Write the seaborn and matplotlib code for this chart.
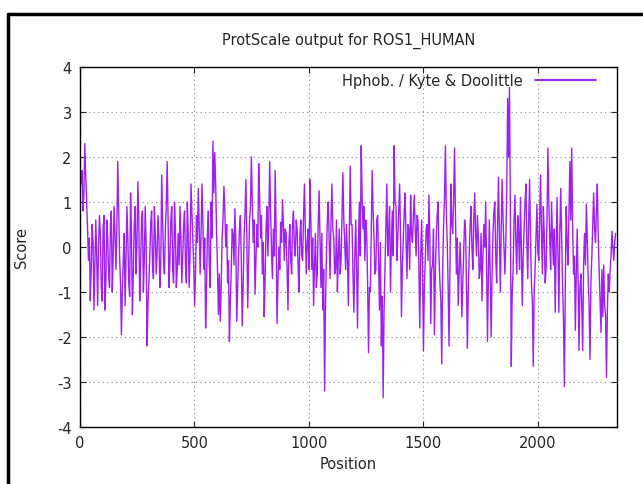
import numpy as np
import seaborn as sns
import matplotlib.pyplot as plt
from matplotlib.lines import Line2D

# Kyte & Doolittle scores.
# segN: one value every 8 residues, segNb: the values half way between them
seg1 = [1.4, 0.8, 2.3, 1.0, -0.3, -1.2, 0.5, -1.4, 0.6, -1.3, 0.7, -0.9, 0.4, -1.4, 0.6, -0.6, 0.5, -1.0, 0.9,
        -0.5, 1.9, -0.2, -1.95, -0.3, -1.3, 0.9, -0.8, 1.2, -1.5, 0.5, -0.6, 1.45, -1.2, 0.6, -1.0, 0.9, -2.2]
seg1b = [1.7, 1.2, 1.6, 0.4, 0.2, -0.5, 0.1, -0.4, -0.2, 0.0, 0.3, -1.2, 0.7, -0.8, 0.2, -0.9, 0.8, -0.2, 0.3,
         0.4, 0.8, -0.8, -1.0, 0.3, -0.3, 0.2, -1.1, 0.3, -0.6, 0.9, 0.1, 0.6, -0.4, 0.8, -0.3, 0.1, -1.3]
seg2 = [-0.8, 0.5, -0.4, 0.9, -0.6, 0.7, -0.9, 1.6, -0.3, 0.4, 1.9, -0.9, 0.6, -0.5, 1.0, -0.9, 0.3, 0.9, -0.8,
        0.5, -0.4, 1.0, -0.9, 1.4, 0.2, -1.3, 0.7, 1.3, -0.6, 1.4, -0.5, -1.8, 0.3, -0.4, 1.0, 2.35, 2.1]
seg2b = [-0.2, 0.8, -0.7, 0.3, -0.1, 0.2, -0.4, 0.7, -0.6, 0.9, 0.6, -0.3, 0.9, -0.8, 0.4, -0.5, -0.4, 0.2, -0.2,
         0.8, -0.8, 0.3, -0.2, 0.8, -0.4, -0.6, 0.1, 0.5, 0.2, 0.6, 0.2, -0.9, 0.8, -0.9, 0.2, 1.2, 1.4]
seg3 = [0.3, -1.5, -1.65, 0.2, 1.35, 0.0, -0.8, -2.1, -0.5, 0.3, 0.85, -1.65, -0.2, 0.7, -1.75, 0.2, 1.5, -1.35,
        0.6, 2.0, 0.1, -1.05, 0.5, 1.85, 0.2, -0.6, -1.55, 0.4, -0.2, 1.9, -0.1, 0.4, 1.7, -1.7, 0.0, 0.55, 1.05]
seg3b = [-0.5, -0.6, -0.9, 0.6, 0.8, 0.5, -0.3, -1.2, 0.4, -0.4, 0.1, -0.9, 0.4, -0.3, -0.9, 0.7, 0.3, -0.4,
         0.9, 1.0, 0.6, -0.3, 0.0, 1.1, 0.7, 0.1, -0.7, 0.9, 0.5, 0.8, -0.7, -0.2, 0.4, -0.8, -0.5, 0.1, 0.5]
seg4 = [-0.3, 0.3, -1.4, 0.5, -0.6, 0.8, -0.2, 0.4, -1.0, 0.6, -0.3, 1.4, -0.6, 0.4, 1.5, -0.5, -1.3, 0.3, -0.6,
        1.25, -0.9, -1.4, -3.2, -0.2, 1.0, -0.7, 1.4, 0.2, -0.5, -1.0, 0.4, -0.3, 1.65, 0.1, 0.5, -1.3, 1.8]
seg4b = [0.4, -0.5, 0.1, -0.3, 0.5, 0.0, 0.6, -0.4, 0.2, -0.2, 0.7, 0.3, 0.1, -0.5, 0.6, 0.2, -0.4, -0.9, 0.5,
         0.2, 0.3, -0.5, -1.3, 0.6, 0.1, 0.6, 0.4, -0.6, 0.6, -0.2, -0.6, 0.7, 0.6, -0.5, -0.3, 0.2, 0.5]
seg5 = [0.5, -1.45, 0.6, -1.8, 1.0, 2.25, 0.4, -0.3, 0.3, -2.35, -1.0, 1.7, 0.2, -0.5, 0.7, -1.4, -2.2, -3.35,
        -0.4, 1.4, 0.3, -1.0, 0.8, 2.25, 0.9, 0.2, 1.4, -1.55, 0.2, 1.2, -0.7, 0.4, 1.15, 0.1, 1.15, -0.2, 0.6, -1.8]
seg5b = [-0.6, -0.2, -0.5, 0.1, -0.2, 1.1, 0.9, 0.6, -0.8, -0.9, 0.4, 0.8, -0.6, 0.6, -0.3, 0.1, -1.1, -1.4,
         0.5, -0.2, 0.9, 0.1, -0.2, 1.0, -0.3, 0.8, 0.2, -0.4, 0.8, 0.1, 0.5, -0.5, 0.3, 0.7, 0.4, 0.7, -0.4, -0.2]
seg6 = [0.6, -2.3, -0.3, 0.5, 1.15, -1.7, -0.4, -1.95, 0.2, 1.0, -0.8, -2.6, 0.5, 2.25, 0.1, -2.2, 1.4, 0.3, 2.2,
        -0.6, -1.3, 0.1, -1.55, -0.1, 0.4, -2.25, -0.2, 0.9, -0.5, 1.2, -0.2, 0.2, -0.5, -1.2, 0.5, 1.0, -2.1]
seg6b = [-0.4, -0.9, 0.4, -0.3, 0.2, -0.5, 0.4, -0.6, 0.7, -0.2, -1.2, -0.6, 1.1, 0.8, -0.9, -0.3, 0.5, 1.1, 0.7,
         0.2, -0.6, -0.5, -0.8, 0.6, -0.8, -1.0, 0.5, 0.0, 0.6, 0.3, 0.7, -0.7, 0.3, -0.2, 0.0, -0.4, -0.6]
seg7 = [0.6, -2.0, 0.3, 1.0, -0.8, 1.55, -1.0, 1.5, 0.0, 0.1, 3.3, 3.55, -2.65, -0.5, 1.15, -0.6, 0.3, 1.1, -1.3,
        0.4, 1.4, -0.7, 1.5, -0.8, -2.65, -0.5, 0.95, -0.3, 1.6, -0.6, 0.3, -0.5, 2.2, 0.2, 1.0, -0.4, -1.45]
seg7b = [-0.7, -0.6, 0.8, -0.2, 0.5, 0.2, 0.4, 0.6, -0.6, 1.2, 2.0, 0.8, -1.0, 0.6, 0.1, 0.7, -0.5, 0.0, -0.2,
         1.0, 0.1, 0.6, 0.2, -1.2, -1.0, 0.2, -0.1, 0.7, 0.3, 0.9, -0.8, 0.6, 1.0, -0.5, 0.2, 0.4, 0.0]
seg8 = [1.1, -1.45, 1.3, -0.8, -3.1, 0.9, -0.4, 1.9, 2.2, -0.6, -1.85, 0.4, -2.3, -0.6, -2.3, 0.3, 0.95, -0.7,
        -2.5, -0.2, 1.2, 0.1, 1.4, -0.5, -1.9, -1.55, -1.3, -2.9, -0.6, -0.5, 0.35, -0.3, 0.3]
seg8b = [-0.2, 0.3, 0.2, -1.6, -0.9, 0.1, 0.7, 0.6, 0.5, -0.2, -0.6, -0.8, -0.9, -1.3, -0.4, -0.4, 0.2, -1.3,
         -0.8, 0.5, 0.4, 0.8, 0.2, -1.2, -0.5, -0.4, -1.5, -1.4, -1.0, -0.2, 0.0, 0.1]


def weave(a, b):
    out = []
    for i, v in enumerate(a):
        out.append(v)
        if i < len(b):
            out.append(b[i])
    return out


score = []
for a, b in [(seg1, seg1b), (seg2, seg2b), (seg3, seg3b), (seg4, seg4b),
             (seg5, seg5b), (seg6, seg6b), (seg7, seg7b), (seg8, seg8b)]:
    score += weave(a, b)
score = np.array(score)
position = 5 + 4 * np.arange(len(score))

sns.set_style('ticks')
plt.rcParams['font.family'] = ['DejaVu Sans']
plt.rcParams['axes.unicode_minus'] = False

fig = plt.figure(figsize=(6.43, 4.85), dpi=100)
ax = fig.add_axes([80 / 643, 57 / 485, 537 / 643, 360 / 485])

sns.lineplot(x=position, y=score, ax=ax, color='#a020f0', linewidth=1.0,
             label='Hphob. / Kyte & Doolittle')

ax.set_xlim(0, 2347)
ax.set_ylim(-4, 4)
ax.set_xticks([0, 500, 1000, 1500, 2000])
ax.set_yticks(range(-4, 5))
ax.grid(True, linestyle=(0, (1, 3)), color='#888888', linewidth=0.8)
ax.tick_params(direction='in', top=True, right=True, length=4, labelsize=10.5, pad=6)
for s in ax.spines.values():
    s.set_linewidth(1.0)
    s.set_color('black')

ax.set_title('ProtScale output for ROS1_HUMAN', fontsize=10.5, pad=17)
ax.set_xlabel('Position', fontsize=10.5, labelpad=4)
ax.set_ylabel('Score', fontsize=10.5, labelpad=20)

leg = ax.legend(loc='upper right', bbox_to_anchor=(0.985, 1.02), frameon=False, markerfirst=False,
                fontsize=10.5, handlelength=4.2, handletextpad=0.8)
for h in leg.get_lines():
    h.set_linewidth(1.4)

# screenshot frame
fig.add_artist(Line2D([8 / 643, 1], [1 - 15 / 485, 1 - 15 / 485], color='black', linewidth=2.5))
fig.add_artist(Line2D([8 / 643, 8 / 643], [0, 1 - 15 / 485], color='black', linewidth=2.5))

fig.savefig('out.png', dpi=100)
